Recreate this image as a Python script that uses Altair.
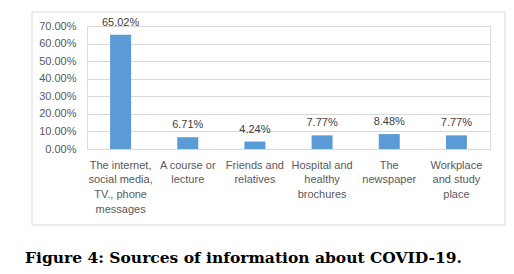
import altair as alt
import pandas as pd

categories = [
    "The internet,|social media,|TV., phone|messages",
    "A course or|lecture",
    "Friends and|relatives",
    "Hospital and|healthy|brochures",
    "The|newspaper",
    "Workplace|and study|place",
]
values = [0.6502, 0.0671, 0.0424, 0.0777, 0.0848, 0.0777]
y_ticks = [0, 0.1, 0.2, 0.3, 0.4, 0.5, 0.6, 0.7]
caption = "Figure 4: Sources of information about COVID-19."

df = pd.DataFrame({"cat": categories, "val": values})

W, H = 403, 123
LFONT = "Liberation Sans"
GRAY = "#595959"

x = alt.X(
    "cat:N",
    sort=None,
    scale=alt.Scale(paddingInner=0, paddingOuter=0),
    axis=alt.Axis(
        title=None,
        labelExpr="split(datum.label, '|')",
        labelAngle=0,
        labelFont=LFONT,
        labelFontSize=11,
        labelColor=GRAY,
        labelPadding=10,
        labelLineHeight=14.7,
        labelBaseline="top",
        labelOverlap=False,
        ticks=False,
        domainColor="#d9d9d9",
        grid=False,
    ),
)
y = alt.Y(
    "val:Q",
    scale=alt.Scale(domain=[0, 0.7], nice=False),
    axis=alt.Axis(
        title=None,
        values=y_ticks,
        tickCount=8,
        format=".2%",
        labelFont=LFONT,
        labelFontSize=11,
        labelColor=GRAY,
        labelPadding=11,
        labelOverlap=False,
        ticks=False,
        domain=False,
        gridColor="#d9d9d9",
        gridWidth=1,
    ),
)

base = alt.Chart(df)
bars = base.mark_bar(color="#5b9bd5", size=21).encode(x=x, y=y)
labels = base.mark_text(
    font=LFONT, fontSize=11, color="#404040", baseline="bottom", dy=-7
).encode(x=x, y=y, text=alt.Text("val:Q", format=".2%"))

one = pd.DataFrame({"t": [caption]})
frame = alt.Chart(one).mark_rect(fill=None, stroke="#d9d9d9", strokeWidth=1).encode(
    x=alt.value(-55), x2=alt.value(418), y=alt.value(-14), y2=alt.value(199)
)
cap = alt.Chart(one).mark_text(
    font="DejaVu Serif", fontWeight="bold", fontSize=15.5, color="#000000",
    align="left", baseline="middle"
).encode(text="t:N", x=alt.value(-62), y=alt.value(232))

chart = alt.layer(bars, labels, frame, cap).properties(
    width=W, height=H,
    autosize=alt.AutoSizeParams(type="none"),
    padding={"left": 87, "top": 26, "right": 24, "bottom": 125},
).configure_view(stroke=None).configure(background="white")

chart.save("out.html", embed_options={"renderer": "svg", "actions": False})
